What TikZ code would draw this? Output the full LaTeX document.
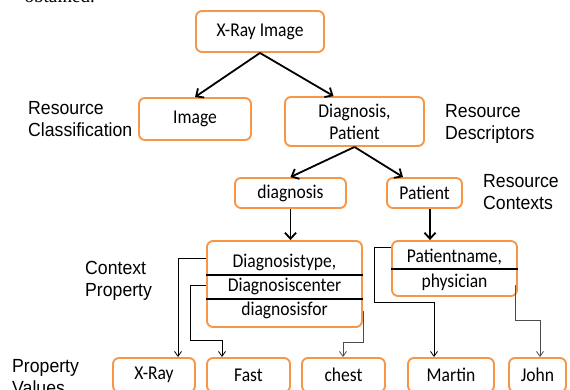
\documentclass[tikz,border=0pt]{standalone}
\usepackage{fontspec}
\setmainfont[FakeStretch=0.9]{Carlito}
\newfontfamily\labelfont[FakeStretch=0.93]{Liberation Sans}
\newfontfamily\seriffont{Liberation Serif}
\usetikzlibrary{arrows.meta}
\definecolor{boxorange}{RGB}{247,150,70}
\begin{document}
\begin{tikzpicture}[x=1pt,y=-1pt,
  box/.style={draw=boxorange, line width=1.9pt, rounded corners=6pt, fill=white,
    font=\fontsize{19.5}{22}\selectfont, align=center, inner sep=0pt},
  rowtext/.style={inner sep=0pt, font=\fontsize{19.5}{22}\selectfont},
  lbl/.style={font=\labelfont\fontsize{19}{22}\selectfont, align=left, anchor=west, inner sep=0pt},
  bigarrow/.style={-{Straight Barb[length=6pt,width=11pt]}, line width=1.8pt},
  thinarrow/.style={-{Straight Barb[length=5pt,width=7pt]}, line width=0.8pt},
  divider/.style={line width=2.2pt}]
\useasboundingbox (0,0) rectangle (570,389);
\clip (0,0) rectangle (570,389);

% cut-off text at top
\node[font=\seriffont\fontsize{19}{19}\selectfont, anchor=base east, inner sep=0pt] (ob) at (95,2.5) {obtained.};

% boxes
\node[box, minimum width=128pt, minimum height=41pt] (top) at (260,31.5) {X-Ray Image};
\node[box, minimum width=112pt, minimum height=42pt] (img) at (195,119) {Image};
\node[box, minimum width=139pt, minimum height=49pt] (diag) at (354.5,121.5) {Diagnosis,\\Patient};
\node[box, minimum width=111pt, minimum height=30pt] (dg) at (290.5,193) {diagnosis};
\node[box, minimum width=75pt, minimum height=30pt] (pt) at (424.5,193) {Patient};

\node[box, minimum width=155pt, minimum height=86pt] (cp) at (284.5,284) {};
\node[rowtext] (cp1) at (284.5,262) {Diagnosistype,};
\node[rowtext] (cp2) at (284.5,286) {Diagnosiscenter};
\node[rowtext] (cp3) at (284.5,310) {diagnosisfor};
\coordinate (l1) at (0,275);
\coordinate (l2) at (0,299);
\draw[divider] (cp.west |- l1) -- (cp.east |- l1);
\draw[divider] (cp.west |- l2) -- (cp.east |- l2);

\node[box, minimum width=125pt, minimum height=55pt] (pn) at (454.5,268.5) {};
\node[rowtext] (pn1) at (454.5,257) {Patientname,};
\node[rowtext] (pn2) at (454.5,282) {physician};
\coordinate (l3) at (0,269);
\draw[divider] (pn.west |- l3) -- (pn.east |- l3);

\node[box, minimum width=82pt, minimum height=34pt] (xr) at (154,375) {X-Ray};
\node[box, minimum width=83pt, minimum height=34pt] (fa) at (248.5,375) {Fast};
\node[box, minimum width=83pt, minimum height=34pt] (ch) at (343.5,375) {chest};
\node[box, minimum width=86pt, minimum height=34pt] (ma) at (451,375) {Martin};
\node[box, minimum width=57pt, minimum height=34pt] (jo) at (537.5,375) {John};

% labels
\node[lbl] (rc) at (28,119) {Resource\\Classification};
\node[lbl] (rd) at (445,124) {Resource\\Descriptors};
\node[lbl] (rx) at (483,192) {Resource\\Contexts};
\node[lbl] (cpl) at (85,281) {Context\\Property};
\node[lbl] (pv) at (12,377) {Property\\Values};

% thick arrows
\draw[bigarrow] (top.south) -- (img.north);
\draw[bigarrow] (top.south) -- ([xshift=-21pt]diag.north);
\draw[bigarrow] (diag.south) -- (dg.north);
\draw[bigarrow] (diag.south) -- ([xshift=-21.5pt]pt.north);
\draw[bigarrow] (dg.south) -- (dg.south |- cp.north);
\draw[bigarrow] ([xshift=5.5pt]pt.south) -- ([xshift=5.5pt]pt.south |- pn.north);

% thin connectors
\coordinate (c1) at (178,258);
\draw[thinarrow] (c1 -| cp.west) -- (c1) -- (c1 |- xr.north);
\coordinate (c2a) at (190,285);
\coordinate (c2b) at (222,340);
\draw[thinarrow] (c2a -| cp.west) -- (c2a) -- (c2a |- c2b) -- (c2b) -- (c2b |- fa.north);
\coordinate (c3s) at (0,311);
\coordinate (c3) at (343,342);
\draw[thinarrow, gray!60!black] (c3s -| cp.east) -- (c3 -| cp.east) -- (c3) -- (c3 |- ch.north);
\coordinate (c4a) at (374,247);
\coordinate (c4b) at (434,302);
\draw[thinarrow] (c4a -| pn.west) -- (c4a) -- (c4a |- c4b) -- (c4b) -- (c4b |- ma.north);
\coordinate (c5s) at (515,285);
\coordinate (c5) at (540,320);
\draw[thinarrow, gray!60!black] (c5s) -- (c5s |- c5) -- (c5) -- (c5 |- jo.north);
\end{tikzpicture}
\end{document}
